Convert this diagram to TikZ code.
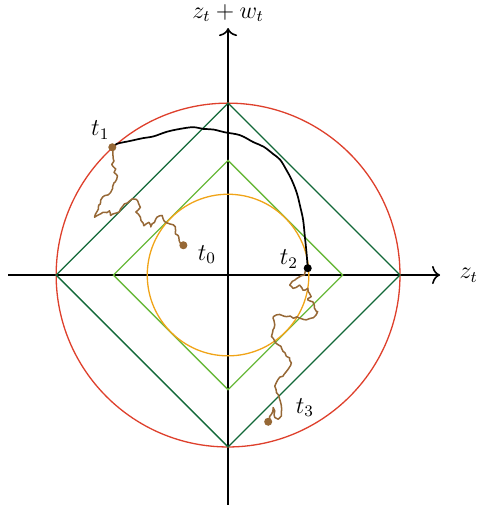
\documentclass[tikz,border=0pt]{standalone}
\usepackage{amsmath}
\usepackage{xcolor}
\usetikzlibrary{arrows.meta, calc, decorations.pathmorphing}

\definecolor{ballred}{RGB}{222,64,44}
\definecolor{darkdiam}{RGB}{18,104,56}
\definecolor{lightdiam}{RGB}{104,184,58}
\definecolor{ballorange}{RGB}{240,164,24}
\definecolor{walkbrown}{RGB}{150,104,54}

\begin{document}
\begin{tikzpicture}[line width=0.65pt, font=\large,
    walk/.style={walkbrown, line width=0.75pt, line join=round, decorate,
        decoration={random steps, segment length=1.5pt, amplitude=0.5pt}},
    flow/.style={black, line width=0.85pt},
    axis/.style={line width=0.8pt, -{To[length=4pt, width=9pt]}},
    dot/.style={circle, fill, inner sep=0pt, minimum size=4pt}]

            \useasboundingbox (-3.98,-4.10) rectangle (4.36,4.80);
            \pgfmathsetseed{11}

            % 半径
            \def\R{3}
            \def\r{2}

            % 坐标轴
            \draw[axis] (-3.84,0) -- (3.70,0) node (xlab) [right=6pt] {$z_t$};
            \draw[axis] (0,-4.01) -- (0,4.31);
            \node (ylab) at (0,4.57) {$z_t + w_t$};

            % 球与菱形
            \draw[ballred] (0,0) circle (\R);
            \draw[darkdiam] (\R,0) -- (0,\R) -- (-\R,0) -- (0,-\R) -- cycle;
            \draw[lightdiam] (\r,0) -- (0,\r) -- (-\r,0) -- (0,-\r) -- cycle;
            \draw[ballorange] (0,0) circle (1.41);

            % 时刻
            \coordinate (t0) at (-0.78,0.52);
            \coordinate (t1) at (-2.02,2.23);
            \coordinate (t2) at (1.39,0.12);
            \coordinate (t3) at (0.70,-2.56);

            % 漂移 t1 -> t2
            \draw[flow] plot[smooth, tension=0.6] coordinates {
                (t1) (-1.94,2.29) (-1.71,2.34) (-1.48,2.39) (-1.30,2.42)
                (-1.07,2.50) (-0.84,2.55) (-0.61,2.58) (-0.43,2.55)
                (-0.26,2.54) (-0.05,2.49) (0.21,2.44) (0.44,2.32)
                (0.62,2.24) (0.79,2.11) (0.91,2.01) (1.02,1.83)
                (1.11,1.66) (1.20,1.43) (1.26,1.19) (1.31,0.96)
                (1.34,0.67) (1.37,0.38) (t2)};

            % 随机游走 t1 -> t0
            \draw[walk] (t1) -- (-1.99,1.99) -- (-2.03,1.93) -- (-1.96,1.85) -- (-1.99,1.79)
                -- (-1.93,1.73) -- (-1.99,1.61) -- (-2.05,1.44) -- (-2.19,1.36)
                -- (-2.28,1.12) -- (-2.33,1.01) -- (-2.22,1.07) -- (-2.07,1.12)
                -- (-2.05,1.04) -- (-1.90,1.10) -- (-1.81,1.24) -- (-1.67,1.33)
                -- (-1.58,1.30) -- (-1.53,1.18) -- (-1.61,1.10) -- (-1.53,1.01)
                -- (-1.47,0.86) -- (-1.38,0.92) -- (-1.35,0.84) -- (-1.24,1.01)
                -- (-1.15,1.04) -- (-1.12,0.95) -- (-1.01,0.89) -- (-0.92,0.84)
                -- (-0.92,0.72) -- (-0.86,0.66) -- (-0.83,0.55) -- (t0);

            % 随机游走 t2 -> t3
            \draw[walk] (t2) -- (1.334,0.00) -- (1.248,-0.03) -- (1.161,-0.09) -- (1.075,-0.175)
                -- (1.132,-0.233) -- (1.248,-0.175) -- (1.305,-0.262) -- (1.392,-0.233)
                -- (1.421,-0.319) -- (1.451,-0.378) -- (1.392,-0.435) -- (1.478,-0.465)
                -- (1.508,-0.579) -- (1.565,-0.636) -- (1.537,-0.695) -- (1.451,-0.752)
                -- (1.364,-0.782) -- (1.248,-0.752) -- (1.017,-0.725) -- (0.844,-0.695)
                -- (0.785,-0.752) -- (0.815,-0.869) -- (0.785,-0.955) -- (0.757,-1.071)
                -- (0.815,-1.158) -- (0.872,-1.215) -- (0.931,-1.272) -- (0.958,-1.331)
                -- (1.017,-1.418) -- (1.075,-1.446) -- (1.104,-1.532) -- (1.045,-1.648)
                -- (0.958,-1.765) -- (0.872,-1.822) -- (0.815,-1.938) -- (0.844,-2.052)
                -- (0.901,-2.168) -- (0.931,-2.284) -- (0.931,-2.458) -- (0.872,-2.515)
                -- (0.815,-2.485) -- (0.815,-2.371) -- (0.785,-2.312) -- (0.757,-2.428)
                -- (0.728,-2.515) -- (t3);

            % 端点
            \node[dot, walkbrown] (d0) at (t0) {};
            \node[dot, walkbrown] (d1) at (t1) {};
            \node[dot, black] (d2) at (t2) {};
            \node[dot, walkbrown] (d3) at (t3) {};

            % 标签
            \node (l0) at (-0.37,0.36) {$t_0$};
            \node (l1) at (-2.23,2.53) {$t_1$};
            \node (l2) at (1.06,0.28) {$t_2$};
            \node (l3) at (1.34,-2.31) {$t_3$};

        \end{tikzpicture}
\end{document}
